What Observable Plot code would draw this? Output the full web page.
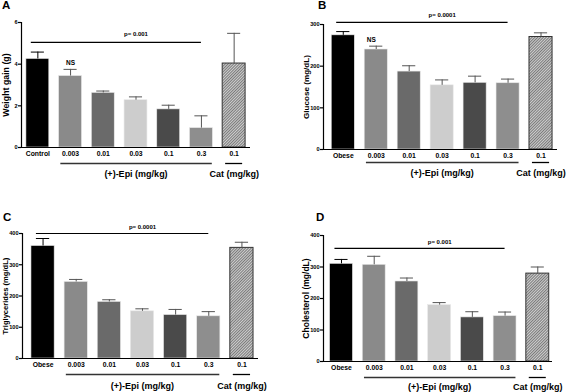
<!DOCTYPE html>
<html><head><meta charset="utf-8">
<script src="https://cdn.jsdelivr.net/npm/d3@7"></script>
<script src="https://cdn.jsdelivr.net/npm/@observablehq/plot@0.6"></script>
<style>
body{margin:0;background:#fff;font-family:"Liberation Sans",Arial,sans-serif;}
#wrap{position:relative;width:567px;height:392px;overflow:hidden;}
.panel{position:absolute;}
.letter{position:absolute;font-weight:bold;font-size:11.5px;line-height:1;}
</style></head>
<body><div id="wrap"></div>
<script>
// ---- data ----
const catsA = ["Control","0.003","0.01","0.03","0.1","0.3","0.1"];
const catsObese = ["Obese","0.003","0.01","0.03","0.1","0.3","0.1"];
const weightGain = [4.25,3.43,2.62,2.27,1.83,0.93,4.03];
const weightGainSem = [0.33,0.32,0.09,0.16,0.20,0.59,1.45];
const glucose = [274,240,187,154,160,159,270];
const glucoseSem = [9,8,14,13,16,10,10];
const triglycerides = [360,245,181,151,139,135,354];
const triglyceridesSem = [24,8,7,8,18,15,18];
const cholesterol = [310,307,254,179,140,144,279];
const cholesterolSem = [14,27,11,8,18,13,21];
const ticksA = [0,2,4,6];
const ticksB = [0,100,200,300];
const ticksCD = [0,100,200,300,400];
const pValues = ["p= 0.001","p= 0.0001","p= 0.0001","p= 0.001"];
const pLineY = [5.05,305,400,359];
const epiIdx = [1,2,3,4,5];
const catIdx = 6;
const groupLabels = ["(+)-Epi (mg/kg)","Cat (mg/kg)"];

// ---- styles ----
const barColors = ["#000000","#8a8a8a","#6a6a6a","#cdcdcd","#4a4a4a","#8e8e8e"];
const font = "Liberation Sans, Arial, sans-serif";

function panel(o){
  const rows = o.vals.map((v,i)=>({i, v, s:o.sems[i], cat:o.cats[i]}));
  const solid = rows.filter(d=>d.i!==catIdx);
  const hatch = rows.filter(d=>d.i===catIdx);
  const hw = 0.35;
  const yMax = o.yTicks[o.yTicks.length-1];
  const pid = "hatch"+o.id;
  const pRow = [{y:o.pY, x1: 0-0.2, x2: epiIdx[epiIdx.length-1]}];
  const brackets = [
    {x1: epiIdx[0]-hw*0.85, x2: epiIdx[epiIdx.length-1]+hw*0.95, c:"#333"},
    {x1: catIdx-0.26, x2: catIdx+0.26, c:"#000"}
  ];
  const gl = [
    {x: d3.mean(epiIdx), t: groupLabels[0]},
    {x: catIdx, t: groupLabels[1]}
  ];
  const svg = Plot.plot({
    width:o.w, height:196,
    marginLeft:o.ml, marginRight:o.mr, marginTop:o.mt, marginBottom:o.mb,
    x:{domain:o.xd},
    y:{domain:[0,yMax]},
    style:{fontFamily:font, fontWeight:"bold", background:"transparent", overflow:"visible"},
    marks:[
      Plot.rectY(solid,{x1:d=>d.i-hw, x2:d=>d.i+hw, y1:d=>0, y2:"v", fill:d=>barColors[d.i], stroke:"#e8e8e8", strokeWidth:0.6}),
      Plot.rectY(hatch,{x1:d=>d.i-hw, x2:d=>d.i+hw, y1:d=>0, y2:"v", fill:`url(#${pid})`, stroke:"#333", strokeWidth:1}),
      Plot.ruleX(rows,{x:"i", y1:"v", y2:d=>d.v+d.s, stroke:d=>d.i===0?"#000":"#555", strokeWidth:1}),
      Plot.ruleY(rows,{y:d=>d.v+d.s, x1:d=>d.i-0.2, x2:d=>d.i+0.2, stroke:d=>d.i===0?"#000":"#555", strokeWidth:1}),
      Plot.ruleY([{y:0}],{y:"y", stroke:"#000", strokeWidth:1.2}),
      Plot.ruleX([{x:o.xd[0], y2:yMax}],{x:"x", y1:d=>0, y2:"y2", stroke:"#000", strokeWidth:1.2}),
      Plot.axisY({ticks:o.yTicks, tickFormat:d=>String(d), tickSize:3, tickPadding:1, fontSize:5.6, label:null, strokeWidth:1.2}),
      Plot.axisX({ticks:rows.map(d=>d.i), tickFormat:i=>o.cats[i], tickSize:0, tickPadding:4, fontSize:6.8, label:null}),
      Plot.ruleY(pRow,{y:"y", x1:"x1", x2:"x2", stroke:"#000", strokeWidth:1.2}),
      Plot.text(pRow,{x:d=>3, y:"y", text:d=>o.pText, dy:o.pDy, fontSize:6}),
      Plot.ruleY(brackets,{y:d=>0, x1:"x1", x2:"x2", stroke:"c", strokeWidth:1.3, dy:o.bDy}),
      Plot.text(gl,{x:"x", y:d=>0, text:"t", dy:o.lDy, fontSize:9}),
      Plot.text([o.yLabel],{frameAnchor:"left", textAnchor:"middle", rotate:-90, dx:o.yDx, fontSize:o.yFs}),
      ...(o.ns ? [Plot.text(rows.filter(d=>d.i===1),{x:"i", y:d=>d.v+d.s, text:d=>"NS", dy:-6, dx:o.nsDx, fontSize:6.5})] : [])
    ]
  });
  d3.select(svg).insert("defs",":first-child").html(
    `<pattern id="${pid}" patternUnits="userSpaceOnUse" width="2" height="2" patternTransform="rotate(45)">
       <rect width="2" height="2" fill="#cfcfcf"/>
       <line x1="0" y1="0" x2="0" y2="2" stroke="#333" stroke-width="1.1"/>
     </pattern>`);
  const div = document.createElement("div");
  div.className="panel";
  div.style.left=o.left+"px"; div.style.top=o.top+"px";
  div.appendChild(svg);
  const L = document.createElement("div");
  L.className="letter"; L.textContent=o.letter;
  L.style.left=o.lx+"px"; L.style.top=o.ly+"px";
  div.appendChild(L);
  document.getElementById("wrap").appendChild(div);
}

panel({id:"A", letter:"A", lx:2, ly:0, left:0, top:0, w:283, ml:21, mr:33, mt:22, mb:49, xd:[-0.5,6.5],
  cats:catsA, vals:weightGain, sems:weightGainSem, yTicks:ticksA, yLabel:"Weight gain (g)", yDx:-15, yFs:8.8,
  pText:pValues[0], pY:pLineY[0], pDy:-8, bDy:16, lDy:27, ns:true, nsDx:0});
panel({id:"B", letter:"B", lx:35, ly:0, left:283, top:0, w:284, ml:40, mr:10, mt:24, mb:47, xd:[-0.6,6.5],
  cats:catsObese, vals:glucose, sems:glucoseSem, yTicks:ticksB, yLabel:"Glucose (mg/dL)", yDx:-17, yFs:8.1,
  pText:pValues[1], pY:pLineY[1], pDy:-7, bDy:13, lDy:24, ns:true, nsDx:-5});
panel({id:"C", letter:"C", lx:3, ly:16, left:0, top:196, w:283, ml:22, mr:25, mt:37, mb:34, xd:[-0.62,6.5],
  cats:catsObese, vals:triglycerides, sems:triglyceridesSem, yTicks:ticksCD, yLabel:"Triglycerides (mg/dL)", yDx:-17, yFs:7.6,
  pText:pValues[2], pY:pLineY[2], pDy:-6, bDy:16, lDy:28, ns:false});
panel({id:"D", letter:"D", lx:33, ly:16, left:283, top:196, w:284, ml:40, mr:15, mt:39, mb:31, xd:[-0.55,6.45],
  cats:catsObese, vals:cholesterol, sems:cholesterolSem, yTicks:ticksCD, yLabel:"Cholesterol (mg/dL)", yDx:-17, yFs:8.5,
  pText:pValues[3], pY:pLineY[3], pDy:-6, bDy:16, lDy:26, ns:false});
</script></body></html>
